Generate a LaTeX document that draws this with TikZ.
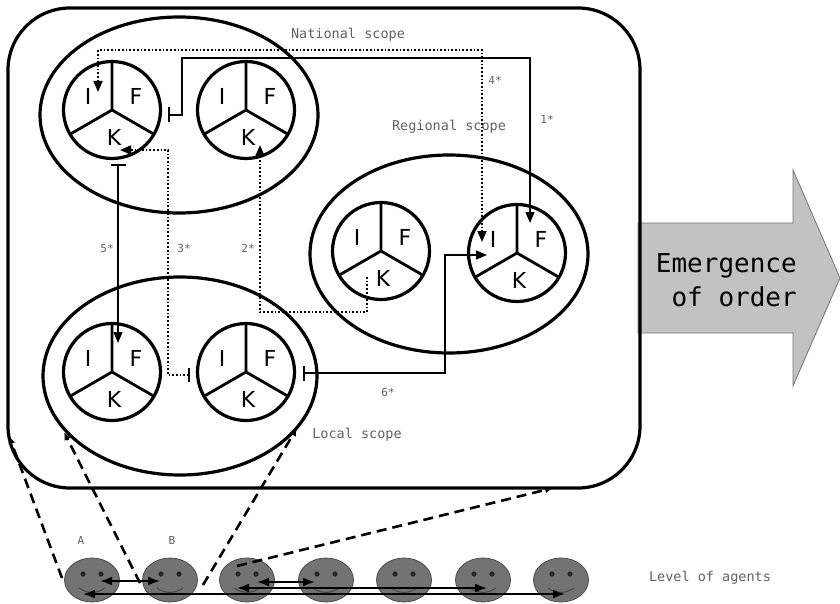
\documentclass[tikz,border=0pt]{standalone}
\usepackage{fontspec}
\setmainfont{DejaVu Sans}
\newfontfamily\monof{DejaVu Sans Mono}
\usetikzlibrary{shapes.geometric,arrows.meta,calc}
\begin{document}
\begin{tikzpicture}[x=1pt,y=-1pt,
  scopeell/.style={ellipse,draw,line width=3.2pt,inner sep=0pt,outer sep=0pt},
  ifk/.style={circle,draw,line width=3.2pt,minimum size=97pt,inner sep=0pt,outer sep=0pt},
  seg/.style={line width=2.8pt},
  lett/.style={font=\fontsize{22}{22}\selectfont,inner sep=0pt},
  lab/.style={font=\monof\fontsize{13.5}{14}\selectfont,text=black!62,inner sep=1pt},
  num/.style={font=\monof\fontsize{11}{12}\selectfont,text=black!62,inner sep=1pt},
  barconn/.style={line width=1.4pt,{Bar[width=15pt,line width=1.6pt]}-{Triangle[length=11pt,width=9pt]}},
  dotc/.style={line width=1.7pt,dotted},
  face/.style={ellipse,fill=black!55,draw=black!70,line width=0.8pt,minimum width=55pt,minimum height=44pt,inner sep=0pt},
  agarr/.style={line width=2pt,{Latex[length=12pt,width=9pt]}-{Latex[length=12pt,width=9pt]}},
  dsh/.style={line width=2.6pt,dash pattern=on 10pt off 6pt,-{Latex[length=8pt,width=7pt]}}
]
\useasboundingbox (0,0) rectangle (840,604);
% big arrow
\draw[fill=black!24,draw=black!55,line width=0.8pt] (638,223) -- (793,223) -- (793,170) -- (840,278) -- (793,386) -- (793,333) -- (638,333) -- cycle;
\node[font=\monof\fontsize{26}{34}\selectfont,align=right,anchor=east,inner sep=0pt] (emo) at (797,280) {Emergence\\of order};
% frame
\node[draw,line width=3.2pt,rounded corners=62pt,minimum width=632pt,minimum height=480pt,inner sep=0pt,outer sep=0pt] (frame) at (324,248) {};
% scopes
\node[scopeell,minimum width=278pt,minimum height=196pt] (nat) at (179,115) {};
\node[scopeell,minimum width=278pt,minimum height=198pt] (reg) at (449,254) {};
\node[scopeell,minimum width=274pt,minimum height=198pt] (loc) at (180,376) {};
% IFK circles
\node[ifk] (c1) at (112,110) {};
\node[ifk] (c2) at (246,110) {};
\node[ifk] (c3) at (381,251) {};
\node[ifk] (c4) at (517,253) {};
\node[ifk] (c5) at (112,372) {};
\node[ifk] (c6) at (246,372) {};
\foreach \c in {c1,c2,c3,c4,c5,c6}{
  \draw[seg] (\c.north) -- (\c.center) -- (\c.210);
  \draw[seg] (\c.center) -- (\c.330);
  \node[lett] at ($(\c)+(-24,-14)$) {I};
  \node[lett] at ($(\c)+(24,-14)$) {F};
  \node[lett] at ($(\c)+(2,27)$) {K};
}
% labels
\node[lab] (natl) at (348,35) {National scope};
\node[lab] (regl) at (449,127) {Regional scope};
\node[lab] (locl) at (357,435) {Local scope};
\node[lab] (lev) at (710,578) {Level of agents};
\node[num] (n4) at (495,80) {4*};
\node[num] (n1) at (547,119) {1*};
\node[num] (n5) at (107,248) {5*};
\node[num] (n3) at (184,248) {3*};
\node[num] (n2) at (248,248) {2*};
\node[num] (n6) at (388,392) {6*};
\node[num] (la) at (81,540) {A};
\node[num] (lb) at (172,540) {B};
% connectors
\draw[barconn] ($(c1)+(56,5)$) -- ++(14,0) |- ($(c4)+(13,-195)$) -- ($(c4)+(13,-30)$);
\draw[dotc,{Triangle[length=11pt,width=9pt]}-{Triangle[length=11pt,width=9pt]}] ($(c1)+(-14,-18)$) |- ($(c4)+(-35,-203)$) -- ($(c4)+(-35,-11)$);
\draw[barconn] ($(c1)+(6,54)$) -- ($(c5)+(6,-29)$);
\draw[dotc,{Bar[width=14pt,line width=1.6pt]}-{Triangle[length=11pt,width=9pt]}] ($(c6)+(-56,3)$) -| ($(c1)+(56,40)$) -- ($(c1)+(8,40)$);
\draw[dotc,-{Triangle[length=11pt,width=9pt]}] ($(c3)+(-14,26)$) |- ($(c2)+(14,202)$) -- ($(c2)+(14,35)$);
\draw[barconn] ($(c6)+(57,1)$) -| ($(c4)+(-72,2)$) -- ($(c4)+(-30,2)$);
% agents
\foreach \f/\x in {fA/92,fB/170,fC/247,fD/326,fE/404,fF/483,fG/561}{
  \node[face] (\f) at (\x,580) {};
  \fill[black!85] ($(\f)+(-9,-6)$) circle (2.6);
  \fill[black!85] ($(\f)+(9,-6)$) circle (2.6);
  \draw[black!72,line width=1pt] ($(\f)+(-13,8)$) to[bend right=35] ($(\f)+(13,8)$);
}
\draw[agarr] ($(fA)+(8,1)$) -- ($(fB)+(-10,1)$);
\draw[agarr] ($(fC)+(10,2)$) -- ($(fD)+(-11,2)$);
\draw[agarr] ($(fC)+(-10,8)$) -- ($(fF)+(4,8)$);
\draw[agarr] ($(fA)+(-9,14)$) -- ($(fG)+(4,14)$);
% dashed projections
\draw[dsh] ($(fA)+(-30,-2)$) -- ($(frame.south west)+(1,-52)$);
\draw[dsh] ($(fB)+(-30,3)$) -- ($(loc)+(-116,56)$);
\draw[dsh] ($(fB)+(33,5)$) -- ($(loc)+(117,52)$);
\draw[dsh] ($(fC)+(-10,-14)$) -- ($(frame.south)+(229,0)$);
\end{tikzpicture}
\end{document}
